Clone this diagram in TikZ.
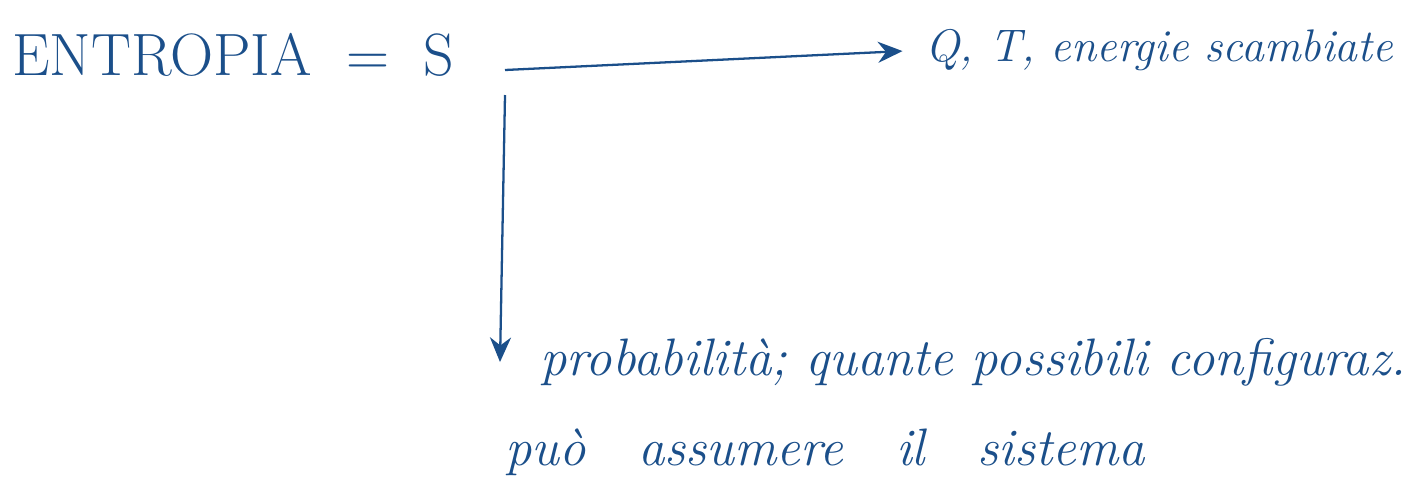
\documentclass[tikz,border=0pt]{standalone}
\usepackage{fontspec}
\usetikzlibrary{arrows.meta}
\definecolor{ink}{HTML}{1B4F8A}
\begin{document}
\begin{tikzpicture}[>={Stealth[length=14pt,width=12pt]}, x=0.02cm, y=-0.02cm,
  note/.style={anchor=west, inner sep=0pt, text=ink, font=\itshape\fontsize{30}{34}\selectfont}]
\useasboundingbox (0,0) rectangle (1422,488);
\node[note, font=\fontsize{34}{40}\selectfont] (title) at (12,55) {ENTROPIA \;=\; S};
\node[note, font=\itshape\fontsize{26}{30}\selectfont] (qt) at (925,50) {Q, T, energie scambiate};
\node[note] (prob) at (540,362) {probabilità; quante possibili configuraz.};
\node[note] (sys) at (505,452) {può\quad assumere\quad il\quad sistema};
\coordinate (hstart) at (505,70);
\coordinate (vstart) at (505,95);
\coordinate (vend) at (500,362);
\draw[->, ink, line width=1.3pt, shorten >=0.45cm] (hstart) -- (qt.west);
\draw[->, ink, line width=1.3pt] (vstart) -- (vend);
\end{tikzpicture}
\end{document}
